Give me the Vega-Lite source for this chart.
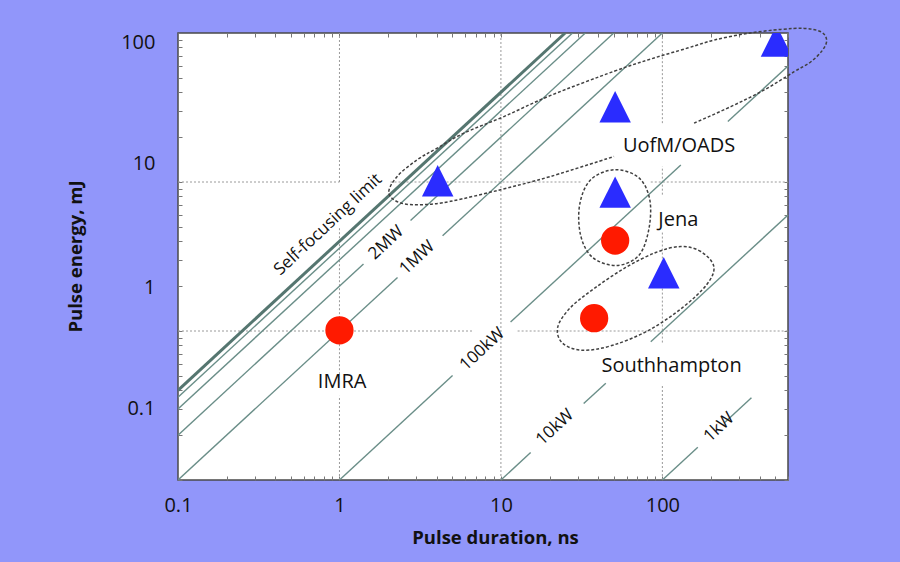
{
  "$schema": "https://vega.github.io/schema/vega-lite/v6.json",
  "width": 610,
  "height": 447,
  "autosize": "none",
  "padding": {"left": 178, "top": 33, "right": 112, "bottom": 82},
  "background": "#9196fa",
  "view": {"fill": "white", "stroke": "#4a4a4a", "strokeWidth": 1.5},
  "config": {"font": "Open Sans"},
  "datasets": {
    "grid": [
      {"t1": 1, "t2": 1, "e1": 10, "e2": 100},
      {"t1": 1, "t2": 1, "e1": 0.513, "e2": 5.045},
      {"t1": 1, "t2": 1, "e1": 0.1, "e2": 0.367},
      {"t1": 10, "t2": 10, "e1": 0.1, "e2": 100},
      {"t1": 100, "t2": 100, "e1": 24.83, "e2": 100},
      {"t1": 100, "t2": 100, "e1": 8.22, "e2": 12.72},
      {"t1": 100, "t2": 100, "e1": 0.8365, "e2": 4.649},
      {"t1": 100, "t2": 100, "e1": 0.1, "e2": 0.4284},
      {"t1": 0.1, "t2": 1, "e1": 10, "e2": 10},
      {"t1": 2.071, "t2": 31.2, "e1": 10, "e2": 10},
      {"t1": 84.77, "t2": 600, "e1": 10, "e2": 10},
      {"t1": 0.1, "t2": 6.773, "e1": 1, "e2": 1},
      {"t1": 12.69, "t2": 600, "e1": 1, "e2": 1}
    ],
    "power": [
      {"kind": "limit", "t1": 0.1, "e1": 0.4, "t2": 25, "e2": 100},
      {"kind": "power", "t1": 0.1, "e1": 0.36, "t2": 27.78, "e2": 100},
      {"kind": "power", "t1": 0.1, "e1": 0.3, "t2": 33.33, "e2": 100},
      {"kind": "power", "t1": 0.1, "e1": 0.2, "t2": 1.409, "e2": 2.818},
      {"kind": "power", "t1": 2.755, "e1": 5.51, "t2": 50, "e2": 100},
      {"kind": "power", "t1": 0.1, "e1": 0.1, "t2": 2.289, "e2": 2.289},
      {"kind": "power", "t1": 4.351, "e1": 4.351, "t2": 100, "e2": 100},
      {"kind": "power", "t1": 1, "e1": 0.1, "t2": 5.019, "e2": 0.5019},
      {"kind": "power", "t1": 11.48, "e1": 1.148, "t2": 130.1, "e2": 13.01},
      {"kind": "power", "t1": 254.4, "e1": 25.44, "t2": 600, "e2": 60},
      {"kind": "power", "t1": 10, "e1": 0.1, "t2": 15.28, "e2": 0.1528},
      {"kind": "power", "t1": 32.56, "e1": 0.3256, "t2": 44.64, "e2": 0.4464},
      {"kind": "power", "t1": 84.77, "e1": 0.8477, "t2": 600, "e2": 6},
      {"kind": "power", "t1": 100, "e1": 0.1, "t2": 165.8, "e2": 0.1658},
      {"kind": "power", "t1": 242.3, "e1": 0.2423, "t2": 356.2, "e2": 0.3562}
    ],
    "bigEllipse": [
      {"o": 1, "t": 157.2, "e": 24.83},
      {"o": 2, "t": 265.5, "e": 32.06},
      {"o": 3, "t": 427.2, "e": 41.47},
      {"o": 4, "t": 655.3, "e": 55.0},
      {"o": 5, "t": 831.8, "e": 64.15},
      {"o": 6, "t": 983.1, "e": 76.84},
      {"o": 7, "t": 1041, "e": 89.66},
      {"o": 8, "t": 959.4, "e": 101.9},
      {"o": 9, "t": 755.9, "e": 107.4},
      {"o": 10, "t": 542.0, "e": 105.7},
      {"o": 11, "t": 337.0, "e": 99.4},
      {"o": 12, "t": 209.2, "e": 89.66},
      {"o": 13, "t": 143.1, "e": 79.2},
      {"o": 14, "t": 84.77, "e": 66.9},
      {"o": 15, "t": 50.19, "e": 55.34},
      {"o": 16, "t": 20.33, "e": 38.11},
      {"o": 17, "t": 10.44, "e": 27.49},
      {"o": 18, "t": 5.897, "e": 21.28},
      {"o": 19, "t": 4.034, "e": 16.89},
      {"o": 20, "t": 3.031, "e": 14.1},
      {"o": 21, "t": 2.279, "e": 10.9},
      {"o": 22, "t": 2.021, "e": 8.44},
      {"o": 23, "t": 2.388, "e": 7.235},
      {"o": 24, "t": 3.318, "e": 7.049},
      {"o": 25, "t": 4.878, "e": 7.418},
      {"o": 26, "t": 9.956, "e": 8.88},
      {"o": 27, "t": 20.33, "e": 10.9},
      {"o": 28, "t": 50.19, "e": 14.84}
    ],
    "ellipses": [
      {"ell": "Jena", "o": 1, "t": 50.69, "e": 12.09},
      {"ell": "Jena", "o": 2, "t": 71.4, "e": 10.69},
      {"ell": "Jena", "o": 3, "t": 83.57, "e": 7.61},
      {"ell": "Jena", "o": 4, "t": 82.38, "e": 4.794},
      {"ell": "Jena", "o": 5, "t": 71.4, "e": 3.211},
      {"ell": "Jena", "o": 6, "t": 52.17, "e": 2.753},
      {"ell": "Jena", "o": 7, "t": 37.03, "e": 3.113},
      {"ell": "Jena", "o": 8, "t": 31.2, "e": 4.371},
      {"ell": "Jena", "o": 9, "t": 30.75, "e": 7.049},
      {"ell": "Jena", "o": 10, "t": 35.98, "e": 10.36},
      {"ell": "South", "o": 1, "t": 208.3, "e": 2.711},
      {"ell": "South", "o": 2, "t": 173.0, "e": 3.416},
      {"ell": "South", "o": 3, "t": 130.1, "e": 3.689},
      {"ell": "South", "o": 4, "t": 91.01, "e": 3.364},
      {"ell": "South", "o": 5, "t": 59.32, "e": 2.669},
      {"ell": "South", "o": 6, "t": 38.65, "e": 1.961},
      {"ell": "South", "o": 7, "t": 27.05, "e": 1.441},
      {"ell": "South", "o": 8, "t": 22.47, "e": 1.059},
      {"ell": "South", "o": 9, "t": 24.13, "e": 0.8275},
      {"ell": "South", "o": 10, "t": 32.09, "e": 0.7426},
      {"ell": "South", "o": 11, "t": 49.27, "e": 0.8023},
      {"ell": "South", "o": 12, "t": 82.38, "e": 1.011},
      {"ell": "South", "o": 13, "t": 133.8, "e": 1.441},
      {"ell": "South", "o": 14, "t": 188.5, "e": 2.054}
    ],
    "points": [
      {"group": "IMRA", "type": "circle", "t": 1.0, "e": 1.01},
      {"group": "Jena", "type": "circle", "t": 51, "e": 4.05},
      {"group": "Southhampton", "type": "circle", "t": 37.8, "e": 1.22},
      {"group": "UofM/OADS", "type": "triangle", "t": 4.06, "e": 10.2},
      {"group": "UofM/OADS", "type": "triangle", "t": 51, "e": 32},
      {"group": "Jena", "type": "triangle", "t": 51, "e": 8.55},
      {"group": "Southhampton", "type": "triangle", "t": 102, "e": 2.46},
      {"group": "UofM/OADS", "type": "triangle", "t": 509, "e": 88.4}
    ],
    "labels": [
      {"text": "IMRA", "t": 1.039, "e": 0.4515},
      {"text": "Southhampton", "t": 114.0, "e": 0.5833},
      {"text": "Jena", "t": 125.5, "e": 5.594},
      {"text": "UofM/OADS", "t": 126.9, "e": 17.5}
    ],
    "lineLabels": [
      {"text": "Self-focusing limit", "t": 0.8487, "e": 5.178},
      {"text": "2MW", "t": 1.95, "e": 3.906},
      {"text": "1MW", "t": 3.031, "e": 3.099},
      {"text": "100kW", "t": 7.667, "e": 0.7543},
      {"text": "10kW", "t": 21.59, "e": 0.2257},
      {"text": "1kW", "t": 224.6, "e": 0.2257}
    ]
  },
  "layer": [
    {
      "data": {"name": "grid"},
      "mark": {"type": "rule", "stroke": "#9a9a9a", "strokeWidth": 1, "strokeDash": [2, 2], "clip": true},
      "encoding": {
        "x": {
          "field": "t1", "type": "quantitative",
          "scale": {"type": "log", "domain": [0.1, 600], "nice": false},
          "axis": {
            "orient": "bottom",
            "values": [0.1, 0.2, 0.3, 0.4, 0.5, 0.6, 0.7, 0.8, 0.9, 1, 2, 3, 4, 5, 6, 7, 8, 9, 10, 20, 30, 40, 50, 60, 70, 80, 90, 100, 200, 300, 400, 500, 600],
            "labelExpr": "datum.value == 0.1 ? '0.1' : datum.value == 1 ? '1' : datum.value == 10 ? '10' : datum.value == 100 ? '100' : ''",
            "grid": false, "domain": false,
            "tickSize": -4, "tickColor": "#777777", "tickWidth": 1,
            "labelFont": "Open Sans", "labelFontSize": 20, "labelColor": "#111111",
            "labelPadding": 29, "labelBaseline": "middle", "labelAlign": "center",
            "labelFlush": false, "labelOverlap": false,
            "title": "Pulse duration, ns",
            "titleFont": "Open Sans", "titleFontSize": 18.5, "titleFontWeight": "bold", "titleColor": "#111111",
            "titleX": 317, "titleY": 57, "titleAlign": "center", "titleBaseline": "middle"
          }
        },
        "x2": {"field": "t2"},
        "y": {
          "field": "e1", "type": "quantitative",
          "scale": {"type": "log", "domain": [0.1, 100], "nice": false},
          "axis": {
            "orient": "left",
            "values": [0.1, 0.2, 0.3, 0.4, 0.5, 0.6, 0.7, 0.8, 0.9, 1, 2, 3, 4, 5, 6, 7, 8, 9, 10, 20, 30, 40, 50, 60, 70, 80, 90, 100],
            "labelExpr": "datum.value == 0.1 ? '0.1' : datum.value == 1 ? '1' : datum.value == 10 ? '10' : datum.value == 100 ? '100' : ''",
            "labelOffset": {"expr": "datum.value == 100 ? 9 : datum.value == 10 ? -19 : datum.value == 1 ? -44 : datum.value == 0.1 ? -72 : 0"},
            "grid": false, "domain": false,
            "tickSize": -4, "tickColor": "#777777", "tickWidth": 1,
            "labelFont": "Open Sans", "labelFontSize": 20, "labelColor": "#111111",
            "labelPadding": 27, "labelBaseline": "middle", "labelAlign": "right",
            "labelFlush": false, "labelOverlap": false,
            "title": "Pulse energy, mJ",
            "titleFont": "Open Sans", "titleFontSize": 18.5, "titleFontWeight": "bold", "titleColor": "#111111",
            "titleAngle": -90, "titleX": -103, "titleY": 223, "titleAlign": "center", "titleBaseline": "middle"
          }
        },
        "y2": {"field": "e2"}
      }
    },
    {
      "data": {"name": "power"},
      "transform": [{"filter": "datum.kind == 'power'"}],
      "mark": {"type": "rule", "stroke": "#6a8e88", "strokeWidth": 1.4, "clip": true},
      "encoding": {
        "x": {"field": "t1", "type": "quantitative", "scale": {"type": "log", "domain": [0.1, 600], "nice": false}, "axis": null},
        "x2": {"field": "t2"},
        "y": {"field": "e1", "type": "quantitative", "scale": {"type": "log", "domain": [0.1, 100], "nice": false}, "axis": null},
        "y2": {"field": "e2"}
      }
    },
    {
      "data": {"name": "power"},
      "transform": [{"filter": "datum.kind == 'limit'"}],
      "mark": {"type": "rule", "stroke": "#557670", "strokeWidth": 3, "clip": true},
      "encoding": {
        "x": {"field": "t1", "type": "quantitative", "scale": {"type": "log", "domain": [0.1, 600], "nice": false}, "axis": null},
        "x2": {"field": "t2"},
        "y": {"field": "e1", "type": "quantitative", "scale": {"type": "log", "domain": [0.1, 100], "nice": false}, "axis": null},
        "y2": {"field": "e2"}
      }
    },
    {
      "data": {"name": "bigEllipse"},
      "mark": {"type": "line", "interpolate": "cardinal", "stroke": "#404040", "strokeWidth": 1.5, "strokeDash": [3, 2]},
      "encoding": {
        "x": {"field": "t", "type": "quantitative", "scale": {"type": "log", "domain": [0.1, 600], "nice": false}, "axis": null},
        "y": {"field": "e", "type": "quantitative", "scale": {"type": "log", "domain": [0.1, 100], "nice": false}, "axis": null},
        "order": {"field": "o", "type": "quantitative"}
      }
    },
    {
      "data": {"name": "ellipses"},
      "mark": {"type": "line", "interpolate": "cardinal-closed", "stroke": "#404040", "strokeWidth": 1.5, "strokeDash": [3, 2]},
      "encoding": {
        "x": {"field": "t", "type": "quantitative", "scale": {"type": "log", "domain": [0.1, 600], "nice": false}, "axis": null},
        "y": {"field": "e", "type": "quantitative", "scale": {"type": "log", "domain": [0.1, 100], "nice": false}, "axis": null},
        "detail": {"field": "ell", "type": "nominal"},
        "order": {"field": "o", "type": "quantitative"}
      }
    },
    {
      "data": {"name": "points"},
      "mark": {"type": "point", "filled": true, "opacity": 1, "strokeWidth": 0, "clip": true},
      "encoding": {
        "x": {
          "field": "t", "type": "quantitative",
          "scale": {"type": "log", "domain": [0.1, 600], "nice": false},
          "axis": {
            "orient": "top",
            "values": [0.1, 0.2, 0.3, 0.4, 0.5, 0.6, 0.7, 0.8, 0.9, 1, 2, 3, 4, 5, 6, 7, 8, 9, 10, 20, 30, 40, 50, 60, 70, 80, 90, 100, 200, 300, 400, 500, 600],
            "labels": false, "grid": false, "domain": false, "title": null,
            "tickSize": -4, "tickColor": "#777777", "tickWidth": 1
          }
        },
        "y": {
          "field": "e", "type": "quantitative",
          "scale": {"type": "log", "domain": [0.1, 100], "nice": false},
          "axis": {
            "orient": "right",
            "values": [0.1, 0.2, 0.3, 0.4, 0.5, 0.6, 0.7, 0.8, 0.9, 1, 2, 3, 4, 5, 6, 7, 8, 9, 10, 20, 30, 40, 50, 60, 70, 80, 90, 100],
            "labels": false, "grid": false, "domain": false, "title": null,
            "tickSize": -4, "tickColor": "#777777", "tickWidth": 1
          }
        },
        "shape": {"field": "type", "type": "nominal", "scale": {"domain": ["circle", "triangle"], "range": ["circle", "M0,-1L1,1L-1,1Z"]}, "legend": null},
        "color": {"field": "type", "type": "nominal", "scale": {"domain": ["circle", "triangle"], "range": ["#ff1a00", "#2a2cff"]}, "legend": null},
        "size": {"field": "type", "type": "nominal", "scale": {"domain": ["circle", "triangle"], "range": [800, 990]}, "legend": null}
      }
    },
    {
      "data": {"name": "labels"},
      "mark": {"type": "text", "font": "Open Sans", "fontSize": 20, "color": "#111111", "align": "center", "baseline": "middle"},
      "encoding": {
        "x": {"field": "t", "type": "quantitative", "scale": {"type": "log", "domain": [0.1, 600], "nice": false}, "axis": null},
        "y": {"field": "e", "type": "quantitative", "scale": {"type": "log", "domain": [0.1, 100], "nice": false}, "axis": null},
        "text": {"field": "text"}
      }
    },
    {
      "data": {"name": "lineLabels"},
      "mark": {"type": "text", "font": "Open Sans", "fontSize": 17, "color": "#111111", "align": "center", "baseline": "middle", "angle": -43},
      "encoding": {
        "x": {"field": "t", "type": "quantitative", "scale": {"type": "log", "domain": [0.1, 600], "nice": false}, "axis": null},
        "y": {"field": "e", "type": "quantitative", "scale": {"type": "log", "domain": [0.1, 100], "nice": false}, "axis": null},
        "text": {"field": "text"}
      }
    }
  ],
  "resolve": {"axis": {"x": "independent", "y": "independent"}}
}
